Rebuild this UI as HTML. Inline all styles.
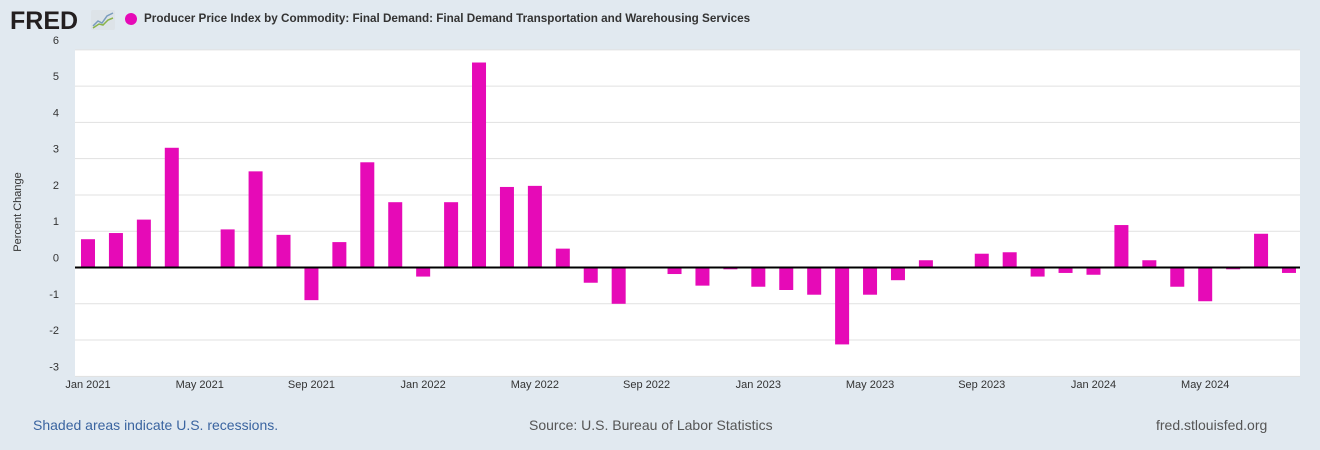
<!DOCTYPE html>
<html><head><meta charset="utf-8"><style>
body{margin:0;width:1320px;height:450px;background:#e1e9f0;font-family:"Liberation Sans",sans-serif;overflow:hidden;position:relative}
.t{position:absolute;white-space:nowrap}
</style></head><body>
<div class="t" style="left:10px;top:7px;font-size:25px;font-weight:bold;color:#231f20;letter-spacing:0px">FRED</div>
<svg class="t" style="left:91px;top:10px" width="24" height="20"><rect width="24" height="20" rx="2" fill="#dde3e8"/><polyline points="2,16 7,11 11,13 16,6 22,3" fill="none" stroke="#7a9cbd" stroke-width="1.5"/><polyline points="2,18 8,14 12,15 17,10 22,8" fill="none" stroke="#8ab34a" stroke-width="1.5"/></svg>
<div class="t" style="left:125px;top:13px;width:12px;height:12px;border-radius:6px;background:#e60ab7"></div>
<div class="t" style="left:144px;top:12px;font-size:11.7px;font-weight:bold;color:#333">Producer Price Index by Commodity: Final Demand: Final Demand Transportation and Warehousing Services</div>
<div class="t" style="left:-22px;top:206px;font-size:11px;color:#333;transform:rotate(-90deg)">Percent Change</div>
<svg id="c" class="t" style="left:0;top:0" width="1320" height="450"></svg>
<div class="t" style="left:33px;top:417px;font-size:14px;color:#3a64a0">Shaded areas indicate U.S. recessions.</div>
<div class="t" style="left:529px;top:417px;font-size:14px;color:#555">Source: U.S. Bureau of Labor Statistics</div>
<div class="t" style="left:1156px;top:417px;font-size:14px;color:#555">fred.stlouisfed.org</div>
<script>
const values=[0.78,0.95,1.32,3.3,0,1.05,2.65,0.9,-0.9,0.7,2.9,1.8,-0.25,1.8,5.65,2.22,2.25,0.52,-0.42,-1.0,0,-0.18,-0.5,-0.05,-0.53,-0.62,-0.75,-2.12,-0.75,-0.35,0.2,0,0.38,0.42,-0.25,-0.15,-0.2,1.17,0.2,-0.53,-0.93,-0.05,0.93,-0.15];
const yTicks=[6,5,4,3,2,1,0,-1,-2,-3];
const xLabels=["Jan 2021","May 2021","Sep 2021","Jan 2022","May 2022","Sep 2022","Jan 2023","May 2023","Sep 2023","Jan 2024","May 2024"];
const NS="http://www.w3.org/2000/svg",svg=document.getElementById('c');
const L=75,R=1300,T=50,B=376;
const y=v=>267.5-v*36.28;
const x=i=>88+i*27.93;
function mk(t,a){const e=document.createElementNS(NS,t);for(const k in a)e.setAttribute(k,a[k]);svg.appendChild(e);return e;}
const bg=mk('rect',{x:L,y:T,width:R-L,height:B-T,fill:'#fff'});


yTicks.forEach(v=>{
 const g=mk('line',{x1:L,x2:R,y1:y(v),y2:y(v),stroke:'#e1e1e1'});
 
 
 const t=mk('text',{x:59,y:y(v)-6,'font-size':11,fill:'#333','text-anchor':'end'});
 t.textContent=v;
 
 
});
values.forEach((v,i)=>{
 const r=mk('rect',{x:x(i)-7,y:Math.min(y(v),y(0)),width:14,height:Math.abs(y(v)-y(0)),fill:'#e60ab7'});
 
 
});
const z=mk('line',{x1:L,x2:R,y1:y(0),y2:y(0),stroke:'#000','stroke-width':2});


xLabels.forEach((s,k)=>{
 const t=mk('text',{x:x(k*4),y:388,'font-size':11,fill:'#333','text-anchor':'middle'});
 t.textContent=s;
 
 
});
</script>
</body></html>
